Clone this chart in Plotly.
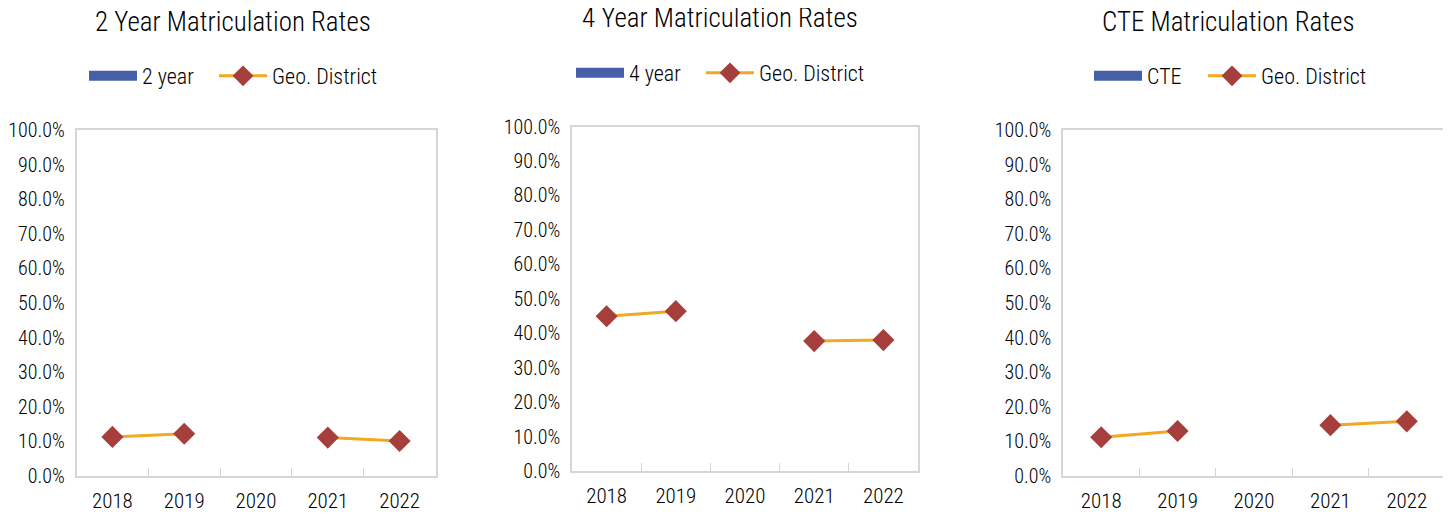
import plotly.graph_objects as go

# data
years = ["2018", "2019", "2020", "2021", "2022"]

rate_2yr = [None, None, None, None, None]
district_2yr = [0.113, 0.122, None, 0.111, 0.101]

rate_4yr = [None, None, None, None, None]
district_4yr = [0.449, 0.464, None, 0.377, 0.380]

rate_cte = [None, None, None, None, None]
district_cte = [0.112, 0.130, None, 0.147, 0.158]

titles = ["2 Year Matriculation Rates", "4 Year Matriculation Rates", "CTE Matriculation Rates"]
bar_names = ["2 year", "4 year", "CTE"]

W, H = 1451, 516
OFF = 8  # the page body adds an 8px margin around the figure
FONT = "Roboto Condensed, Liberation Sans, sans-serif"
BLUE = "#4560a8"
ORANGE = "#f2a922"
RED = "#a63e3b"
GRID = "#d6d6d6"
TXT = "#000000"

# plot areas in page pixels: left, right, top, bottom
boxes = [(76.5, 435.5, 130, 476), (572, 918, 126.5, 471), (1063, 1445, 130, 476)]
title_pos = [(233, 22), (720, 18), (1228, 22)]
legend_pos = [(84, 76), (571, 73), (1089, 76)]
first_entry_w = [67, 67, 51]  # room for the first legend entry's text


def px(x):
    return (x - OFF) / W


def py(y):
    return (H - (y - OFF)) / H


fig = go.Figure()
panels = [(rate_2yr, district_2yr), (rate_4yr, district_4yr), (rate_cte, district_cte)]

for i, (bars, line) in enumerate(panels):
    n = "" if i == 0 else str(i + 1)
    lg = "legend" if i == 0 else f"legend{i + 1}"
    # the bar series has no values; drawn as a thick line so the legend swatch is a wide block
    fig.add_trace(go.Scatter(
        x=years, y=bars, mode="lines", name=bar_names[i],
        line=dict(color=BLUE, width=12), legendwidth=first_entry_w[i],
        xaxis="x" + n, yaxis="y" + n, legend=lg,
    ))
    fig.add_trace(go.Scatter(
        x=years, y=line, mode="lines+markers", name="Geo. District",
        line=dict(color=ORANGE, width=3),
        marker=dict(symbol="diamond", size=17, color=RED),
        connectgaps=False,
        xaxis="x" + n, yaxis="y" + n, legend=lg,
    ))

    l, r, t, b = boxes[i]
    xa = dict(
        domain=[px(l), px(r)], anchor="y" + n, type="category", automargin=False,
        range=[-0.5, len(years) - 0.5],
        showline=True, mirror=True, linecolor=GRID, linewidth=1.5,
        ticks="inside", tickson="boundaries", ticklen=8, tickcolor=GRID,
        showgrid=False, ticklabelstandoff=5,
        tickfont=dict(size=21, color=TXT, weight=300),
    )
    ya = dict(
        domain=[py(b), py(t)], anchor="x" + n, automargin=False,
        range=[0, 1], dtick=0.1, tickformat=".1%",
        showline=True, mirror=True, linecolor=GRID, linewidth=1.5,
        showgrid=False, zeroline=False, ticks="", ticklabelstandoff=6,
        tickfont=dict(size=20, color=TXT, weight=300),
    )
    fig.layout["xaxis" + n] = xa
    fig.layout["yaxis" + n] = ya

    tx, ty = title_pos[i]
    fig.add_annotation(
        x=px(tx), y=py(ty), xref="paper", yref="paper",
        text=titles[i], showarrow=False, xanchor="center", yanchor="middle",
        borderpad=0, font=dict(size=27, color=TXT, weight=300),
    )

    lx, ly = legend_pos[i]
    fig.layout[lg] = dict(
        orientation="h", x=px(lx), y=py(ly), xanchor="left", yanchor="middle",
        itemwidth=48, font=dict(size=22, color=TXT, weight=300),
        bgcolor="rgba(0,0,0,0)", traceorder="normal",
    )

fig.update_layout(
    width=W, height=H, margin=dict(l=0, r=0, t=0, b=0),
    paper_bgcolor="white", plot_bgcolor="white",
    font=dict(family=FONT), showlegend=True,
)

fig.write_html("out.html")
